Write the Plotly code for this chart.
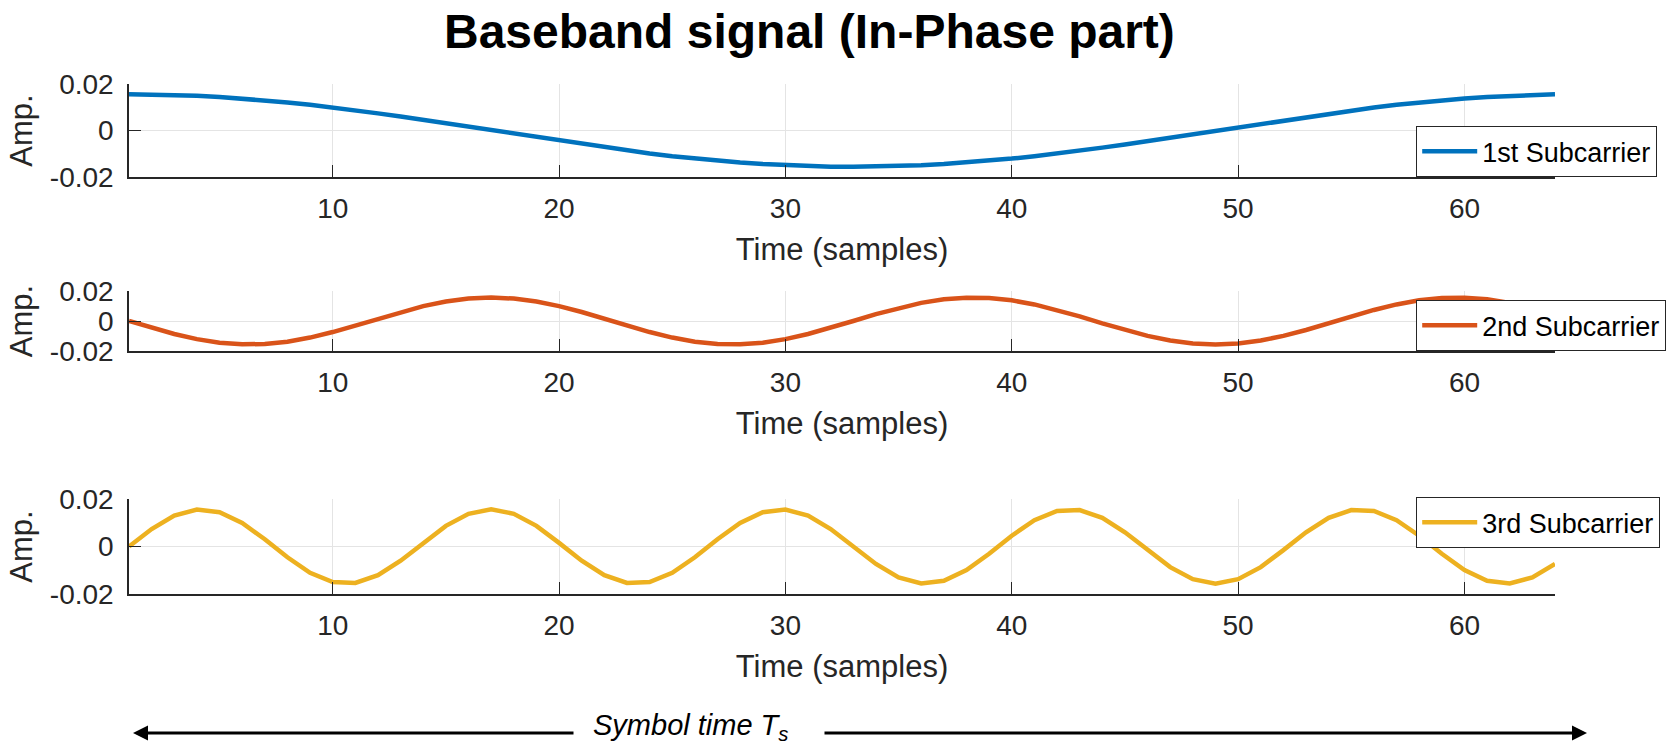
import plotly.graph_objects as go

# ---- data ---------------------------------------------------------------
samples = list(range(1, 65))

sub1 = [0.01563, 0.01555, 0.01532, 0.01495, 0.01444, 0.01378, 0.01299, 0.01208,
        0.01105, 0.00991, 0.00868, 0.00737, 0.00598, 0.00454, 0.00305, 0.00153,
        0.0, -0.00153, -0.00305, -0.00454, -0.00598, -0.00737, -0.00868, -0.00991,
        -0.01105, -0.01208, -0.01299, -0.01378, -0.01444, -0.01495, -0.01532, -0.01555,
        -0.01563, -0.01555, -0.01532, -0.01495, -0.01444, -0.01378, -0.01299, -0.01208,
        -0.01105, -0.00991, -0.00868, -0.00737, -0.00598, -0.00454, -0.00305, -0.00153,
        0.0, 0.00153, 0.00305, 0.00454, 0.00598, 0.00737, 0.00868, 0.00991,
        0.01105, 0.01208, 0.01299, 0.01378, 0.01444, 0.01495, 0.01532, 0.01555]

sub2 = [0.0, -0.00454, -0.00868, -0.01208, -0.01444, -0.01555, -0.01532, -0.01378,
        -0.01105, -0.00737, -0.00305, 0.00153, 0.00598, 0.00991, 0.01299, 0.01495,
        0.01563, 0.01495, 0.01299, 0.00991, 0.00598, 0.00153, -0.00305, -0.00737,
        -0.01105, -0.01378, -0.01532, -0.01555, -0.01444, -0.01208, -0.00868, -0.00454,
        0.0, 0.00454, 0.00868, 0.01208, 0.01444, 0.01555, 0.01532, 0.01378,
        0.01105, 0.00737, 0.00305, -0.00153, -0.00598, -0.00991, -0.01299, -0.01495,
        -0.01563, -0.01495, -0.01299, -0.00991, -0.00598, -0.00153, 0.00305, 0.00737,
        0.01105, 0.01378, 0.01532, 0.01555, 0.01444, 0.01208, 0.00868, 0.00454]

sub3 = [0.0, 0.00737, 0.01299, 0.01555, 0.01444, 0.00991, 0.00305, -0.00454,
        -0.01105, -0.01495, -0.01532, -0.01208, -0.00598, 0.00153, 0.00868, 0.01378,
        0.01563, 0.01378, 0.00868, 0.00153, -0.00598, -0.01208, -0.01532, -0.01495,
        -0.01105, -0.00454, 0.00305, 0.00991, 0.01444, 0.01555, 0.01299, 0.00737,
        0.0, -0.00737, -0.01299, -0.01555, -0.01444, -0.00991, -0.00305, 0.00454,
        0.01105, 0.01495, 0.01532, 0.01208, 0.00598, -0.00153, -0.00868, -0.01378,
        -0.01563, -0.01378, -0.00868, -0.00153, 0.00598, 0.01208, 0.01532, 0.01495,
        0.01105, 0.00454, -0.00305, -0.00991, -0.01444, -0.01555, -0.01299, -0.00737]

series_names = ["1st Subcarrier", "2nd Subcarrier", "3rd Subcarrier"]
x_tick_vals = [10, 20, 30, 40, 50, 60]
y_tick_vals = [-0.02, 0, 0.02]
y_tick_text = ["-0.02", "0", "0.02"]

title_text = "<b>Baseband signal (In-Phase part)</b>"
x_title = "Time (samples)"
y_title = "Amp."
symbol_text = "<i>Symbol time T<sub>s</sub></i>"

# ---- layout helpers -----------------------------------------------------
W, H = 1673, 744
FONT = "Liberation Sans, Arial, Helvetica, sans-serif"
AX_COLOR = "#262626"
colors = ["#0072BD", "#D95319", "#EDB120"]


def fx(p):
    return p / W


def fy(p):
    return 1 - p / H


# pixel rows (top, bottom) of the three panels
panel_rows = [(84, 177), (291, 351), (499, 594)]
x_left, x_right = 129, 1555

fig = go.Figure()

legend_specs = [
    dict(y=fy(177), yanchor="bottom"),
    dict(y=fy(351), yanchor="bottom"),
    dict(y=fy(497), yanchor="top"),
]

for i, (vals, name) in enumerate(zip([sub1, sub2, sub3], series_names)):
    sfx = "" if i == 0 else str(i + 1)
    fig.add_trace(go.Scatter(
        x=samples, y=vals, mode="lines", name=name,
        line=dict(color=colors[i], width=4.5),
        xaxis="x" + sfx, yaxis="y" + sfx,
        legend="legend" + sfx,
    ))
    top, bot = panel_rows[i]
    fig.layout["xaxis" + sfx] = dict(
        domain=[fx(x_left), fx(x_right)], anchor="y" + sfx,
        range=[1, 64], tickvals=x_tick_vals,
        ticks="inside", ticklen=12, tickwidth=1.2, tickcolor=AX_COLOR,
        showline=True, linecolor=AX_COLOR, linewidth=1.5, mirror=False,
        showgrid=True, gridcolor="#e4e4e4", gridwidth=1, zeroline=False,
        tickfont=dict(family=FONT, size=28, color=AX_COLOR),
        ticklabelstandoff=6,
        title=dict(text=x_title, standoff=15,
                   font=dict(family=FONT, size=31, color=AX_COLOR)),
        automargin=False,
    )
    fig.layout["yaxis" + sfx] = dict(
        domain=[fy(bot), fy(top)], anchor="x" + sfx,
        range=[-0.02, 0.02], tickvals=y_tick_vals, ticktext=y_tick_text,
        ticks="inside", ticklen=12, tickwidth=1.2, tickcolor=AX_COLOR,
        showline=True, linecolor=AX_COLOR, linewidth=1.5, mirror=False,
        showgrid=True, gridcolor="#e4e4e4", gridwidth=1, zeroline=False,
        tickfont=dict(family=FONT, size=28, color=AX_COLOR),
        ticklabelstandoff=8,
        title=dict(text=y_title, standoff=8,
                   font=dict(family=FONT, size=31, color=AX_COLOR)),
        automargin=False,
    )
    fig.layout["legend" + sfx] = dict(
        x=fx(1416), xanchor="left", **legend_specs[i],
        bgcolor="white", bordercolor=AX_COLOR, borderwidth=1.2,
        font=dict(family=FONT, size=27, color="black"),
        itemwidth=55, tracegroupgap=0,
    )

# figure title
fig.add_annotation(
    text=title_text, x=fx(809), y=fy(32), xref="paper", yref="paper",
    xanchor="center", yanchor="middle", showarrow=False,
    font=dict(family=FONT, size=48, color="black"),
)

# symbol-time double arrow below the panels
arrow_y = fy(733)
fig.add_annotation(
    x=fx(133), y=arrow_y, xref="paper", yref="paper", text="",
    showarrow=True, ax=575 - 133, ay=0, arrowhead=2, arrowsize=1,
    arrowwidth=3, arrowcolor="black", standoff=0,
)
fig.add_annotation(
    x=fx(1587), y=arrow_y, xref="paper", yref="paper", text="",
    showarrow=True, ax=823 - 1587, ay=0, arrowhead=2, arrowsize=1,
    arrowwidth=3, arrowcolor="black", standoff=0,
)
fig.add_annotation(
    text=symbol_text, x=fx(690), y=fy(727), xref="paper", yref="paper",
    xanchor="center", yanchor="middle", showarrow=False,
    font=dict(family=FONT, size=29, color="black"),
)

fig.update_layout(
    width=W, height=H, autosize=False,
    margin=dict(l=0, r=0, t=0, b=0),
    paper_bgcolor="white", plot_bgcolor="white",
    showlegend=True,
    font=dict(family=FONT, color=AX_COLOR),
)

fig.write_html("out.html")
